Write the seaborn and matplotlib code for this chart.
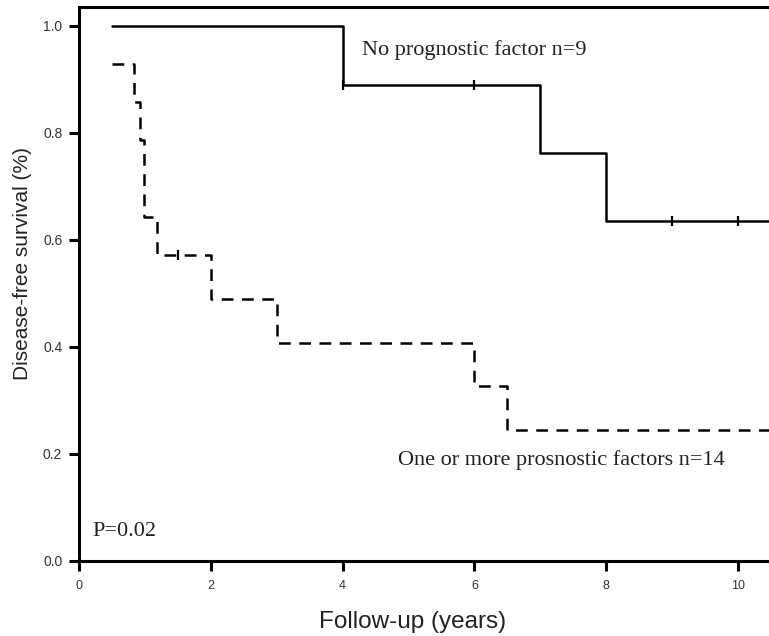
import pandas as pd
import seaborn as sns
import matplotlib.pyplot as plt

# Kaplan-Meier steps
no_factor_time = [0.5, 4.0, 7.0, 8.0, 10.6]
no_factor_surv = [1.0, 0.889, 0.762, 0.635, 0.635]
no_factor_cens_time = [4.0, 6.0, 9.0, 10.0]
no_factor_cens_surv = [0.889, 0.889, 0.635, 0.635]

factor_time = [0.5, 0.835, 0.926, 0.99, 1.18, 2.0, 3.0, 6.0, 6.5, 10.6]
factor_surv = [0.929, 0.857, 0.786, 0.643, 0.571, 0.490, 0.408, 0.327, 0.245, 0.245]
factor_cens_time = [1.5]
factor_cens_surv = [0.571]

x_ticks = [0, 2, 4, 6, 8, 10]
y_ticks = [0.0, 0.2, 0.4, 0.6, 0.8, 1.0]

curves = pd.concat([
    pd.DataFrame({"time": no_factor_time, "surv": no_factor_surv, "group": "none"}),
    pd.DataFrame({"time": factor_time, "surv": factor_surv, "group": "one+"}),
])
censored = pd.DataFrame({
    "time": no_factor_cens_time + factor_cens_time,
    "surv": no_factor_cens_surv + factor_cens_surv,
})

sns.set_style("ticks")
plt.rcParams["font.family"] = ["Liberation Sans", "DejaVu Sans"]

fig = plt.figure(figsize=(7.69, 6.36), dpi=100)
ax = fig.add_axes([79 / 769, 75 / 636, 690 / 769, 554 / 636])

sns.lineplot(
    data=curves, x="time", y="surv", style="group",
    dashes={"none": "", "one+": (4.7, 3.4)},
    color="black", linewidth=1.8, drawstyle="steps-post",
    estimator=None, sort=False, legend=False, ax=ax,
)
sns.scatterplot(
    data=censored, x="time", y="surv", marker="|", s=45,
    color="black", linewidth=1.6, ax=ax, zorder=3,
)

ax.set_xlim(0, 10.47)
ax.set_ylim(0, 1.035)
ax.set_xticks(x_ticks)
ax.set_xticklabels([str(t) for t in x_ticks], fontsize=9, color="#333333")
ax.set_yticks(y_ticks)
ax.set_yticklabels([f"{t:.1f}" for t in y_ticks], fontsize=10, color="#333333")
ax.tick_params(axis="y", direction="out", length=7, width=2.2, pad=5, color="black")
ax.tick_params(axis="x", direction="out", length=7, width=2.2, pad=7, color="black")

for side in ["left", "bottom", "top"]:
    ax.spines[side].set_linewidth(2.2)
    ax.spines[side].set_color("black")
ax.spines["right"].set_visible(False)

ax.set_xlabel("")
ax.set_ylabel("")
fig.text(413 / 769, 1 - 628 / 636, "Follow-up (years)", fontsize=17.5,
         ha="center", va="baseline", color="#222222")
fig.text(23 / 769, 1 - 263 / 636, "Disease-free survival (%)", fontsize=15,
         rotation=90, ha="center", va="center", color="#222222")

serif = ["Liberation Serif", "DejaVu Serif"]
ax.text(4.29, 0.946, "No prognostic factor n=9", family=serif, fontsize=16,
        va="baseline", color="#222222")
ax.text(4.84, 0.179, "One or more prosnostic factors n=14", family=serif,
        fontsize=16, va="baseline", color="#222222")
ax.text(0.2, 0.047, "P=0.02", family=serif, fontsize=16, va="baseline",
        color="#222222")

fig.savefig("out.png", dpi=100)
